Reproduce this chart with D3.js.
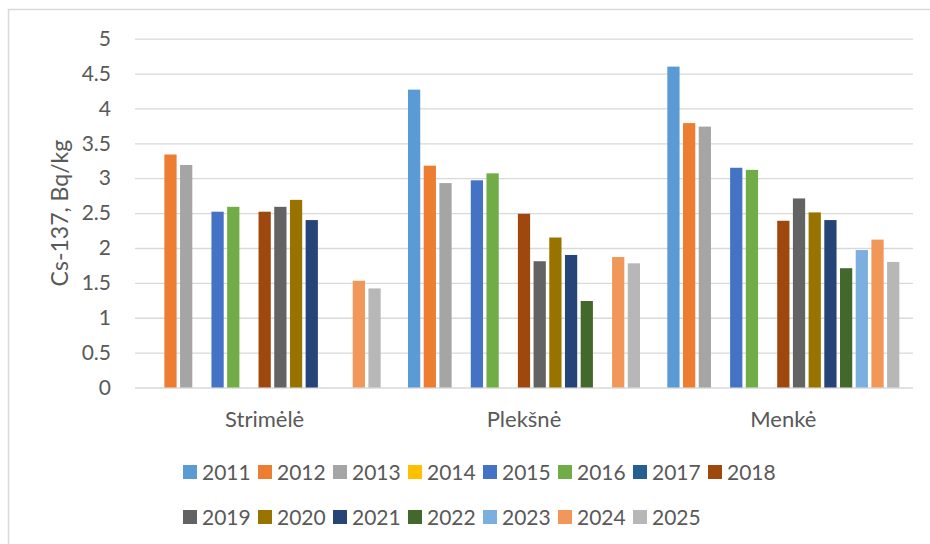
<!DOCTYPE html>
<html>
<head>
<meta charset="utf-8">
<script src="https://cdn.jsdelivr.net/npm/d3@7"></script>
<style>
  body { margin: 0; background: #fff; }
  text { font-family: Lato, "Open Sans", sans-serif; fill: #595959; }
</style>
</head>
<body>
<svg id="chart" width="930" height="544"></svg>
<script>
// categories and years
const categories = ['Strimėlė', 'Plekšnė', 'Menkė']
const years = ['2011','2012','2013','2014','2015','2016','2017','2018','2019','2020','2021','2022','2023','2024','2025']
const yTicks = [0, 0.5, 1, 1.5, 2, 2.5, 3, 3.5, 4, 4.5, 5]

// values per category, one entry per year (null = no bar)
const strimele = [null, 3.34, 3.19, null, 2.52, 2.59, null, 2.52, 2.59, 2.69, 2.40, null, null, 1.53, 1.42]
const pleksne  = [4.27, 3.18, 2.93, null, 2.97, 3.07, null, 2.49, 1.81, 2.15, 1.90, 1.24, null, 1.87, 1.78]
const menke    = [4.60, 3.79, 3.74, null, 3.15, 3.12, null, 2.39, 2.71, 2.51, 2.40, 1.71, 1.97, 2.12, 1.80]

const yearColors = ['#5B9BD5','#ED7D31','#A5A5A5','#FFC000','#4472C4','#70AD47','#255E91','#9E480E',
                    '#636363','#997300','#264478','#43682B','#7CAFDD','#F1975A','#B7B7B7']

const seriesByCat = [strimele, pleksne, menke]
const data = []
categories.forEach((c, ci) => {
    years.forEach((yr, yi) => {
        const v = seriesByCat[ci][yi]
        if (v != null) data.push({ cat: c, year: yr, value: v })
    })
})

const svg = d3.select('#chart')
const margin = { top: 38.7, left: 135, right: 17, bottom: 156.5 }
const width = 930 - margin.left - margin.right
const height = 544 - margin.top - margin.bottom

// chart area border
svg.append('rect')
    .attr('x', 8.5).attr('y', 9.5)
    .attr('width', 1000).attr('height', 1000)
    .attr('fill', 'none')
    .attr('stroke', '#d9d9d9')
    .attr('stroke-width', 1.5)

const g = svg.append('g')
    .attr('transform', `translate(${margin.left}, ${margin.top})`)

// scales
const x0 = d3.scaleBand()
    .domain(categories)
    .range([0, width])

const x1 = d3.scaleBand()
    .domain(years)
    .range([0, x0.bandwidth()])
    .paddingInner(0.22)
    .paddingOuter(0.87)

const y = d3.scaleLinear()
    .domain([0, 5])
    .range([height, 0])

const color = d3.scaleOrdinal()
    .domain(years)
    .range(yearColors)

// y axis with gridlines
const yAxis = g.append('g')
    .call(d3.axisLeft(y).tickValues(yTicks).tickSize(-width).tickPadding(24).tickFormat(d3.format('')))
yAxis.select('.domain').remove()
yAxis.selectAll('line')
    .attr('stroke', '#d9d9d9')
    .attr('stroke-width', 1.3)
yAxis.selectAll('text')
    .attr('font-size', '21px')
    .style('fill', '#595959')
    .style('font-family', 'Lato, sans-serif')

// bars
g.append('g')
    .selectAll('rect')
    .data(data)
    .enter()
    .append('rect')
        .attr('x', d => x0(d.cat) + x1(d.year))
        .attr('y', d => y(d.value))
        .attr('width', x1.bandwidth())
        .attr('height', d => height - y(d.value))
        .attr('fill', d => color(d.year))

// category labels
g.append('g')
    .selectAll('text')
    .data(categories)
    .enter()
    .append('text')
        .attr('x', d => x0(d) + x0.bandwidth() / 2)
        .attr('y', height + 39.5)
        .attr('text-anchor', 'middle')
        .attr('font-size', '22px')
        .text(d => d)

// y title
svg.append('text')
    .attr('transform', `translate(68, ${margin.top + height / 2}) rotate(-90)`)
    .attr('text-anchor', 'middle')
    .attr('font-size', '23px')
    .text('Cs-137, Bq/kg')

// legend, two rows
const legendX = 183
const legendStep = 75
const rowY = [472, 517]
const legend = svg.append('g')
    .selectAll('g')
    .data(years)
    .enter()
    .append('g')
        .attr('transform', (d, i) => {
            const row = i < 8 ? 0 : 1
            const col = i < 8 ? i : i - 8
            return `translate(${legendX + col * legendStep}, ${rowY[row]})`
        })

legend.append('rect')
    .attr('x', 0).attr('y', -7)
    .attr('width', 14).attr('height', 14)
    .attr('fill', d => color(d))

legend.append('text')
    .attr('x', 19)
    .attr('y', 7.5)
    .attr('font-size', '21px')
    .text(d => d)
</script>
</body>
</html>
